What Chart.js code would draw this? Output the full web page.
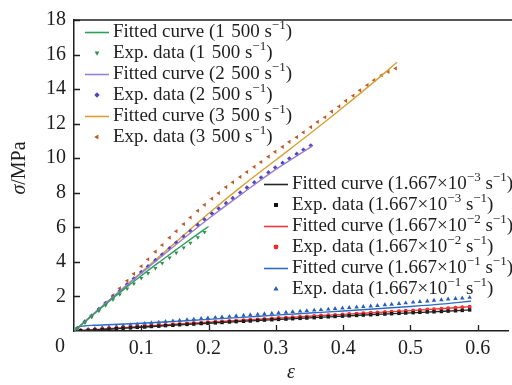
<!DOCTYPE html>
<html>
<head>
<meta charset="utf-8">
<script src="https://cdn.jsdelivr.net/npm/chart.js@4.4.0/dist/chart.umd.min.js"></script>
<style>
  html, body { margin: 0; padding: 0; background: #fff; }
  canvas { display: block; }
</style>
</head>
<body>
<canvas id="chart" width="512" height="385"></canvas>
<script>
// strain values of the experimental points (high strain rates)
const expHighEps = [0.005, 0.016, 0.026, 0.037, 0.047, 0.058, 0.068, 0.079, 0.089, 0.100,
  0.110, 0.121, 0.131, 0.142, 0.152, 0.163, 0.173, 0.184, 0.194, 0.205, 0.215, 0.226,
  0.236, 0.247, 0.257, 0.268, 0.278, 0.289, 0.299, 0.310, 0.320, 0.331, 0.341, 0.352,
  0.362, 0.373, 0.383, 0.394, 0.404, 0.415, 0.425, 0.436, 0.446, 0.457, 0.467, 0.478];
const exp1500Sig = [0.15, 0.5, 0.82, 1.17, 1.48, 1.82, 2.12, 2.45, 2.74, 3.06, 3.34, 3.64,
  3.93, 4.24, 4.53, 4.82, 5.1, 5.42, 5.72];
const exp2500Sig = [0.17, 0.54, 0.88, 1.27, 1.61, 1.98, 2.32, 2.7, 3.04, 3.41, 3.74, 4.1,
  4.43, 4.79, 5.12, 5.47, 5.79, 6.14, 6.45, 6.8, 7.09, 7.4, 7.69, 8.01, 8.3, 8.6, 8.88,
  9.18, 9.46, 9.73, 9.98, 10.25, 10.49, 10.74];
const exp3500Sig = [0.16, 0.5, 0.84, 1.25, 1.64, 2.07, 2.47, 2.91, 3.31, 3.75, 4.15, 4.59,
  4.98, 5.4, 5.78, 6.19, 6.57, 6.96, 7.3, 7.66, 7.98, 8.33, 8.61, 8.92, 9.2, 9.5, 9.78,
  10.09, 10.37, 10.66, 10.95, 11.22, 11.5, 11.8, 12.1, 12.37, 12.7, 13.0, 13.32, 13.62,
  13.93, 14.23, 14.52, 14.8, 15.0, 15.2];

// fitted curves, high strain rates
const fit1500Eps = [0, 0.025, 0.05, 0.075, 0.1, 0.125, 0.15, 0.175, 0.2];
const fit1500Sig = [0, 0.83, 1.65, 2.44, 3.2, 3.94, 4.65, 5.36, 6.05];
const fit2500Eps = [0, 0.05, 0.1, 0.15, 0.2, 0.25, 0.3, 0.354];
const fit2500Sig = [0, 1.7, 3.35, 4.95, 6.5, 7.95, 9.35, 10.7];
const fit3500Eps = [0, 0.05, 0.1, 0.15, 0.2, 0.25, 0.3, 0.35, 0.4, 0.45, 0.48];
const fit3500Sig = [0, 1.7, 3.4, 5.1, 6.8, 8.4, 9.9, 11.4, 12.95, 14.55, 15.55];

// quasi-static rates
const expLowEps = [0.010, 0.021, 0.031, 0.042, 0.052, 0.063, 0.073, 0.084, 0.094, 0.105,
  0.115, 0.126, 0.136, 0.147, 0.157, 0.168, 0.178, 0.189, 0.199, 0.210, 0.220, 0.231,
  0.241, 0.252, 0.262, 0.273, 0.283, 0.294, 0.304, 0.315, 0.325, 0.336, 0.346, 0.357,
  0.367, 0.378, 0.388, 0.399, 0.409, 0.420, 0.430, 0.441, 0.451, 0.462, 0.472, 0.483,
  0.493, 0.504, 0.514, 0.525, 0.535, 0.546, 0.556, 0.567, 0.577, 0.588];
const expE3Sig = [0.02, 0.04, 0.06, 0.08, 0.10, 0.13, 0.16, 0.18, 0.21, 0.23, 0.26, 0.28,
  0.31, 0.33, 0.36, 0.38, 0.40, 0.43, 0.45, 0.47, 0.49, 0.52, 0.54, 0.56, 0.58, 0.61,
  0.63, 0.65, 0.67, 0.69, 0.71, 0.73, 0.75, 0.77, 0.79, 0.82, 0.84, 0.86, 0.88, 0.90,
  0.92, 0.94, 0.96, 0.98, 1.00, 1.02, 1.04, 1.06, 1.08, 1.10, 1.11, 1.13, 1.15, 1.17,
  1.19, 1.22];
const expE2Sig = [0.03, 0.05, 0.08, 0.11, 0.14, 0.16, 0.19, 0.22, 0.24, 0.27, 0.30, 0.33,
  0.35, 0.38, 0.41, 0.43, 0.46, 0.48, 0.51, 0.53, 0.55, 0.58, 0.60, 0.62, 0.65, 0.67,
  0.70, 0.72, 0.75, 0.77, 0.80, 0.82, 0.84, 0.87, 0.89, 0.91, 0.93, 0.96, 0.98, 1.00,
  1.03, 1.05, 1.07, 1.10, 1.12, 1.14, 1.17, 1.19, 1.21, 1.24, 1.26, 1.29, 1.32, 1.35,
  1.38, 1.41];
const expE1Sig = [0.04, 0.09, 0.14, 0.19, 0.23, 0.27, 0.31, 0.35, 0.39, 0.43, 0.47, 0.5,
  0.54, 0.58, 0.61, 0.65, 0.68, 0.72, 0.75, 0.78, 0.81, 0.84, 0.87, 0.9, 0.93, 0.96,
  0.99, 1.02, 1.05, 1.08, 1.11, 1.14, 1.17, 1.2, 1.23, 1.26, 1.29, 1.32, 1.35, 1.38,
  1.41, 1.44, 1.47, 1.51, 1.54, 1.58, 1.62, 1.66, 1.7, 1.73, 1.77, 1.8, 1.84, 1.87,
  1.9, 1.94];

const fitLowEps = [0, 0.05, 0.1, 0.15, 0.2, 0.25, 0.3, 0.35, 0.4, 0.45, 0.5, 0.55, 0.59];
const fitE3Sig = [0, 0.1, 0.22, 0.34, 0.45, 0.56, 0.66, 0.76, 0.86, 0.96, 1.05, 1.14, 1.22];
const fitE2Sig = [0, 0.13, 0.26, 0.39, 0.51, 0.62, 0.74, 0.85, 0.96, 1.07, 1.18, 1.3, 1.41];
const fitE1Eps = [0, 0.005, 0.015, 0.03, 0.05, 0.1, 0.15, 0.2, 0.25, 0.3, 0.35, 0.4, 0.45, 0.5, 0.55, 0.59];
const fitE1Sig = [0, 0.2, 0.29, 0.33, 0.36, 0.45, 0.56, 0.67, 0.79, 0.92, 1.04, 1.16, 1.29, 1.42, 1.57, 1.72];

const xTicks = [0, 0.1, 0.2, 0.3, 0.4, 0.5, 0.6];
const yTicks = [0, 2, 4, 6, 8, 10, 12, 14, 16, 18];

const serif = '"Liberation Serif", "Times New Roman", serif';
const ink = '#1e1e1e';
const tickSize = 20;
const legendSize = 19;

function pts(xs, ys) {
  return ys.map((y, i) => ({ x: xs[i], y: y }));
}

function fitted(label, xs, ys, color) {
  return {
    label: label, data: pts(xs, ys), showLine: true, borderColor: color,
    borderWidth: 1.4, pointRadius: 0, cubicInterpolationMode: 'monotone'
  };
}

function measured(label, xs, ys, color, style, rot, r) {
  return {
    label: label, data: pts(xs, ys), showLine: false, backgroundColor: color,
    borderColor: color, pointBackgroundColor: color, pointBorderWidth: 0,
    pointStyle: style, rotation: rot, pointRadius: r
  };
}

// labels use ^...^ around superscripts
const datasets = [
  fitted('Fitted curve (1\u2004500 s^−1^)', fit1500Eps, fit1500Sig, '#2f9e5c'),
  measured('Exp. data (1\u2004500 s^−1^)', expHighEps.slice(0, exp1500Sig.length), exp1500Sig, '#35904f', 'triangle', 180, 2.4),
  fitted('Fitted curve (2\u2004500 s^−1^)', fit2500Eps, fit2500Sig, '#9a80d2'),
  measured('Exp. data (2\u2004500 s^−1^)', expHighEps.slice(0, exp2500Sig.length), exp2500Sig, '#5646bd', 'rectRot', 0, 2.3),
  fitted('Fitted curve (3\u2004500 s^−1^)', fit3500Eps, fit3500Sig, '#d8a131'),
  measured('Exp. data (3\u2004500 s^−1^)', expHighEps, exp3500Sig, '#bb5a2c', 'triangle', 270, 2.4),
  fitted('Fitted curve (1.667×10^−3^ s^−1^)', fitLowEps, fitE3Sig, '#262626'),
  measured('Exp. data (1.667×10^−3^ s^−1^)', expLowEps, expE3Sig, '#111111', 'rect', 0, 2.4),
  fitted('Fitted curve (1.667×10^−2^ s^−1^)', fitLowEps, fitE2Sig, '#f03a3a'),
  measured('Exp. data (1.667×10^−2^ s^−1^)', expLowEps, expE2Sig, '#ee2a2a', 'circle', 0, 2),
  fitted('Fitted curve (1.667×10^−1^ s^−1^)', fitE1Eps, fitE1Sig, '#2d6cc4'),
  measured('Exp. data (1.667×10^−1^ s^−1^)', expLowEps, expE1Sig, '#2a5db8', 'triangle', 0, 2.6)
];

function drawRich(ctx, text, x, y, size) {
  const parts = text.split('^');
  let cx = x;
  parts.forEach((p, i) => {
    const sup = i % 2 === 1;
    ctx.font = (sup ? Math.round(size * 0.68) : size) + 'px ' + serif;
    ctx.fillText(p, cx, sup ? y - size * 0.36 : y);
    cx += ctx.measureText(p).width;
  });
}

function drawMarker(ctx, ds, x, y) {
  ctx.fillStyle = ds.backgroundColor;
  ctx.strokeStyle = ds.backgroundColor;
  Chart.helpers.drawPoint(ctx, {
    pointStyle: ds.pointStyle, rotation: ds.rotation, radius: ds.pointRadius + 0.4, borderWidth: 0
  }, x, y);
}

function drawLegend(ctx, items, x0, y0, rowH) {
  items.forEach((ds, i) => {
    const y = y0 + i * rowH;
    if (ds.showLine) {
      ctx.strokeStyle = ds.borderColor;
      ctx.lineWidth = 1.6;
      ctx.beginPath();
      ctx.moveTo(x0, y + 0.5);
      ctx.lineTo(x0 + 24, y + 0.5);
      ctx.stroke();
    } else {
      drawMarker(ctx, ds, x0 + 12, y);
    }
    ctx.fillStyle = ink;
    ctx.textAlign = 'left';
    ctx.textBaseline = 'middle';
    drawRich(ctx, ds.label, x0 + 28, y, legendSize);
  });
}

const decorPlugin = {
  id: 'decor',
  afterDraw(chart) {
    const ctx = chart.ctx;
    const area = chart.chartArea;
    const xs = chart.scales.x;
    const ys = chart.scales.y;
    ctx.save();

    // top frame
    ctx.strokeStyle = ink;
    ctx.lineWidth = 1.5;
    ctx.beginPath();
    ctx.moveTo(area.left, area.top);
    ctx.lineTo(512, area.top);
    ctx.stroke();

    // inward tick marks
    ctx.lineWidth = 1.3;
    ctx.beginPath();
    xTicks.forEach(v => {
      if (v === 0) return;
      const px = Math.round(xs.getPixelForValue(v)) + 0.5;
      ctx.moveTo(px, area.bottom);
      ctx.lineTo(px, area.bottom - 6);
    });
    yTicks.forEach(v => {
      if (v === 0) return;
      const py = Math.round(ys.getPixelForValue(v)) + 0.5;
      ctx.moveTo(area.left, py);
      ctx.lineTo(area.left + 6, py);
    });
    ctx.stroke();

    // shared origin label
    ctx.fillStyle = ink;
    ctx.font = tickSize + 'px ' + serif;
    ctx.textAlign = 'center';
    ctx.textBaseline = 'middle';
    ctx.fillText('0', 60, 347);

    // x title
    ctx.font = 'italic ' + tickSize + 'px ' + serif;
    ctx.fillText('ε', 291, 373);

    // y title
    ctx.translate(20, 168);
    ctx.rotate(-Math.PI / 2);
    ctx.font = 'italic ' + tickSize + 'px ' + serif;
    const w1 = ctx.measureText('σ').width;
    ctx.font = tickSize + 'px ' + serif;
    const w2 = ctx.measureText('/MPa').width;
    ctx.textAlign = 'left';
    ctx.font = 'italic ' + tickSize + 'px ' + serif;
    ctx.fillText('σ', -(w1 + w2) / 2, 0);
    ctx.font = tickSize + 'px ' + serif;
    ctx.fillText('/MPa', -(w1 + w2) / 2 + w1, 0);
    ctx.setTransform(1, 0, 0, 1, 0, 0);

    drawLegend(ctx, datasets.slice(0, 6), 85, 32, 21);
    drawLegend(ctx, datasets.slice(6), 264, 184, 21);
    ctx.restore();
  }
};

Chart.defaults.font.family = serif;
Chart.defaults.color = ink;

new Chart(document.getElementById('chart').getContext('2d'), {
  type: 'scatter',
  data: { datasets: datasets },
  options: {
    responsive: false,
    animation: false,
    layout: { padding: { top: 14, right: 0, left: 0, bottom: 0 } },
    plugins: { legend: { display: false }, tooltip: { enabled: false } },
    scales: {
      x: {
        type: 'linear', min: 0, max: 0.645,
        afterBuildTicks(scale) { scale.ticks = xTicks.map(v => ({ value: v })); },
        afterFit(scale) { scale.height = 54; scale.paddingLeft = 0; scale.paddingRight = 0; },
        grid: { display: false, drawTicks: false },
        border: { color: ink, width: 1.5 },
        ticks: {
          padding: 6, color: ink, font: { size: tickSize, family: serif },
          maxRotation: 0, autoSkip: false,
          callback: v => v === 0 ? '' : v.toFixed(1)
        }
      },
      y: {
        type: 'linear', min: 0, max: 18,
        afterBuildTicks(scale) { scale.ticks = yTicks.map(v => ({ value: v })); },
        afterFit(scale) { scale.width = 74; },
        grid: { display: false, drawTicks: false },
        border: { color: ink, width: 1.5 },
        ticks: {
          padding: 8, color: ink, font: { size: tickSize, family: serif },
          callback: v => v === 0 ? '' : String(v)
        }
      }
    }
  },
  plugins: [decorPlugin]
});
</script>
</body>
</html>
